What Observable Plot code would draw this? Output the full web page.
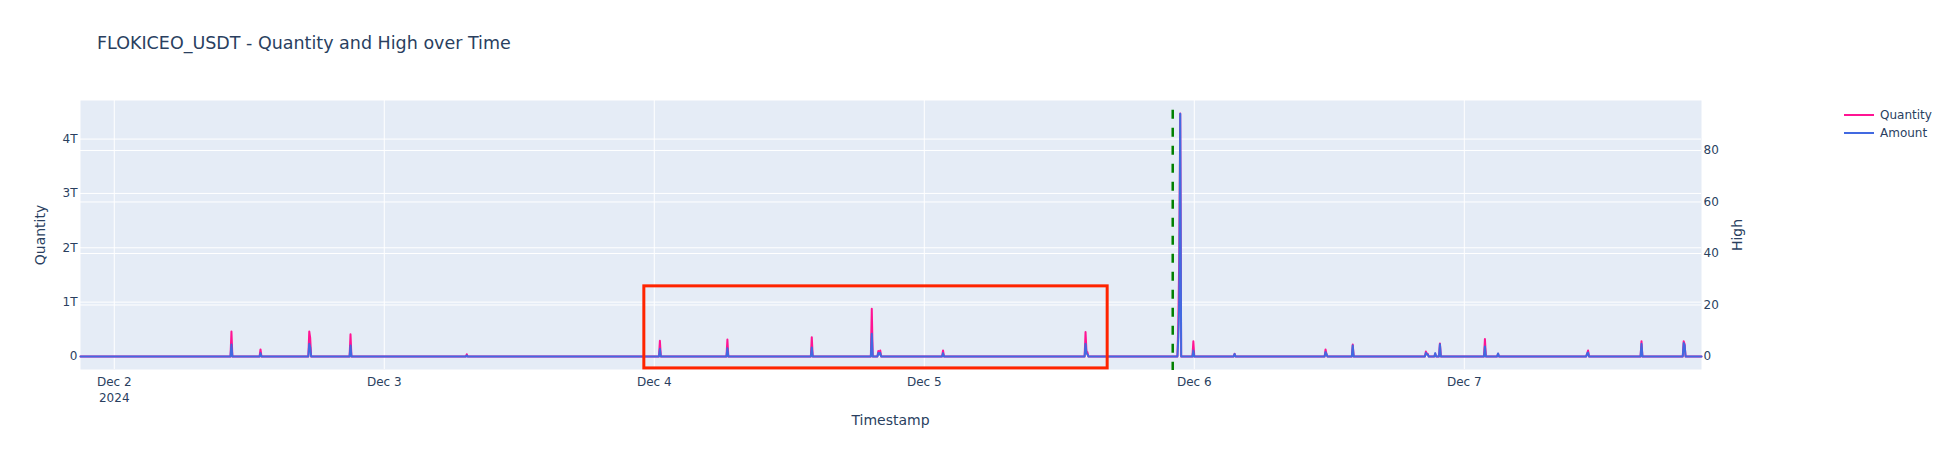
<!DOCTYPE html>
<html>
<head>
<meta charset="utf-8">
<script src="https://cdn.jsdelivr.net/npm/d3@7"></script>
<script src="https://cdn.jsdelivr.net/npm/@observablehq/plot@0.6"></script>
<style>
  html, body { margin: 0; padding: 0; background: #fff; }
  #wrap { position: relative; width: 1948px; height: 450px; font-family: "DejaVu Sans", Verdana, sans-serif; color: #2a3f5f; }
  #wrap svg { position: absolute; left: 0; top: 0; }
  .lbl { position: absolute; white-space: nowrap; }
</style>
</head>
<body>
<div id="wrap"></div>
<script>
// ---- data (UTC timestamps, 5-minute samples around activity) ----
const times = [
  "2024-12-01T21:00",
  "2024-12-02T10:20","2024-12-02T10:25","2024-12-02T10:30",
  "2024-12-02T12:55","2024-12-02T13:00","2024-12-02T13:05",
  "2024-12-02T17:15","2024-12-02T17:20","2024-12-02T17:25","2024-12-02T17:30",
  "2024-12-02T20:55","2024-12-02T21:00","2024-12-02T21:05",
  "2024-12-03T07:15","2024-12-03T07:20","2024-12-03T07:25",
  "2024-12-04T00:25","2024-12-04T00:30","2024-12-04T00:35",
  "2024-12-04T06:25","2024-12-04T06:30","2024-12-04T06:35",
  "2024-12-04T13:55","2024-12-04T14:00","2024-12-04T14:05",
  "2024-12-04T19:15","2024-12-04T19:20","2024-12-04T19:25",
  "2024-12-04T19:50","2024-12-04T19:55","2024-12-04T20:00","2024-12-04T20:05","2024-12-04T20:10",
  "2024-12-05T01:35","2024-12-05T01:40","2024-12-05T01:45",
  "2024-12-05T14:15","2024-12-05T14:20","2024-12-05T14:25","2024-12-05T14:30","2024-12-05T14:35",
  "2024-12-05T22:30","2024-12-05T22:35","2024-12-05T22:40","2024-12-05T22:45","2024-12-05T22:50",
  "2024-12-05T23:50","2024-12-05T23:55","2024-12-06T00:00",
  "2024-12-06T03:30","2024-12-06T03:35","2024-12-06T03:40",
  "2024-12-06T11:35","2024-12-06T11:40","2024-12-06T11:45","2024-12-06T11:50",
  "2024-12-06T14:00","2024-12-06T14:05","2024-12-06T14:10",
  "2024-12-06T20:30","2024-12-06T20:35","2024-12-06T20:40","2024-12-06T20:45","2024-12-06T20:50",
  "2024-12-06T21:20","2024-12-06T21:25","2024-12-06T21:30",
  "2024-12-06T21:45","2024-12-06T21:50","2024-12-06T21:55",
  "2024-12-07T01:45","2024-12-07T01:50","2024-12-07T01:55",
  "2024-12-07T02:55","2024-12-07T03:00","2024-12-07T03:05",
  "2024-12-07T10:50","2024-12-07T10:55","2024-12-07T11:00","2024-12-07T11:05",
  "2024-12-07T15:40","2024-12-07T15:45","2024-12-07T15:50",
  "2024-12-07T19:25","2024-12-07T19:30","2024-12-07T19:35","2024-12-07T19:40",
  "2024-12-07T21:05"
];
// Quantity in trillions
const quantityT = [
  0,
  0,0.46,0,
  0,0.13,0,
  0,0.46,0.34,0,
  0,0.41,0,
  0,0.04,0,
  0,0.29,0,
  0,0.31,0,
  0,0.355,0,
  0,0.876,0,
  0,0.10,0.06,0.11,0,
  0,0.11,0,
  0,0.45,0.09,0.08,0,
  0,0.65,1.9,4.47,0,
  0,0.28,0,
  0,0.05,0,
  0,0.13,0.04,0,
  0,0.22,0,
  0,0.09,0.05,0.05,0,
  0,0.05,0,
  0,0.24,0,
  0,0.32,0,
  0,0.05,0,
  0,0.05,0.11,0,
  0,0.28,0,
  0,0.28,0.23,0,
  0
];
// "Amount" series, plotted on the right-hand "High" axis
const high = [
  0,
  0,4.7,0,
  0,1.3,0,
  0,4.9,3.6,0,
  0,4.3,0,
  0,0.4,0,
  0,3.0,0,
  0,3.2,0,
  0,3.5,0,
  0,8.8,0,
  0,1.4,0.8,1.4,0,
  0,1.3,0,
  0,4.9,1.2,0.9,0,
  0,7.5,22.8,94.3,0,
  0,2.3,0,
  0,1.0,0,
  0,1.7,1.0,0,
  0,4.3,0,
  0,1.4,0.8,0.8,0,
  0,1.3,0,
  0,4.8,0,
  0,3.9,0,
  0,1.2,0,
  0,1.2,1.55,0,
  0,4.9,0,
  0,5.2,4.3,0,
  0
];
const dayTicks = ["2024-12-02","2024-12-03","2024-12-04","2024-12-05","2024-12-06","2024-12-07"];
const qtyTicksT = [0, 1, 2, 3, 4];
const highTicks = [0, 20, 40, 60, 80];
const qtyDomainT = [-0.24, 4.71];
const highDomain = [-5.05, 99.4];
// annotations
const boxX = ["2024-12-03T23:07", "2024-12-05T16:18"];
const boxQtyT = [-0.22, 1.29];
const markerTime = "2024-12-05T22:05";
const markerQtyT = [4.53, -0.26];

// ---- build ----
const T = 1e12;
const parse = s => new Date(s + "Z");
const rows = times.map((t, i) => ({t: parse(t), q: quantityT[i] * T, h: high[i]}));
const toQ = d3.scaleLinear().domain(highDomain).range(qtyDomainT.map(v => v * T));
const days = dayTicks.map(d => new Date(d + "T00:00Z"));
const fmtDay = d3.utcFormat("%b %-d");

const chart = Plot.plot({
  width: 1948,
  height: 450,
  marginTop: 100,
  marginBottom: 81,
  marginLeft: 80,
  marginRight: 247,
  style: {background: "transparent", fontFamily: "DejaVu Sans, Verdana, sans-serif", fontSize: "12px", color: "#2a3f5f", overflow: "visible"},
  x: {type: "utc", domain: [rows[0].t, rows[rows.length - 1].t]},
  y: {domain: qtyDomainT.map(v => v * T)},
  marks: [
    Plot.frame({fill: "#E5ECF6", stroke: null}),
    Plot.gridX(days, {stroke: "#fff", strokeOpacity: 1, strokeWidth: 1}),
    Plot.gridY(qtyTicksT.map(v => v * T), {stroke: "#fff", strokeOpacity: 1, strokeWidth: 1}),
    Plot.gridY(highTicks.map(toQ), {stroke: "#fff", strokeOpacity: 1, strokeWidth: 1}),
    Plot.axisX(days, {tickSize: 0, tickPadding: 5, label: null, lineHeight: 1.33, fontSize: 12,
      tickFormat: (d, i) => i === 0 ? fmtDay(d) + "\n" + d.getUTCFullYear() : fmtDay(d)}),
    Plot.axisY(qtyTicksT.map(v => v * T), {anchor: "left", tickSize: 0, tickPadding: 3, label: null, fontSize: 12,
      tickFormat: d => d === 0 ? "0" : Math.round(d / T) + "T"}),
    Plot.axisY(highTicks.map(toQ), {anchor: "right", tickSize: 0, tickPadding: 2, label: null, fontSize: 12,
      tickFormat: d => String(Math.round(toQ.invert(d)))}),
    Plot.line(rows, {x: "t", y: "q", stroke: "#FF1493", strokeWidth: 2, curve: "linear"}),
    Plot.line(rows, {x: "t", y: d => toQ(d.h), stroke: "#4169E1", strokeWidth: 2, curve: "linear"}),
    Plot.rect([{x1: parse(boxX[0]), x2: parse(boxX[1]), y1: boxQtyT[0] * T, y2: boxQtyT[1] * T}],
      {x1: "x1", x2: "x2", y1: "y1", y2: "y2", fill: "none", stroke: "#ff2400", strokeWidth: 3}),
    Plot.ruleX([{t: parse(markerTime), y1: markerQtyT[0] * T, y2: markerQtyT[1] * T}],
      {x: "t", y1: "y1", y2: "y2", stroke: "green", strokeWidth: 2.5, strokeDasharray: "9,9"})
  ]
});

const wrap = document.getElementById("wrap");
wrap.appendChild(chart);

function label(text, css) {
  const d = document.createElement("div");
  d.className = "lbl";
  d.textContent = text;
  Object.assign(d.style, css);
  wrap.appendChild(d);
  return d;
}
// title
label("FLOKICEO_USDT - Quantity and High over Time", {left: "97px", top: "33px", fontSize: "17.5px", lineHeight: "20px"});
// axis titles
label("Timestamp", {left: "890.5px", top: "410px", fontSize: "14px", lineHeight: "20px", transform: "translateX(-50%)"});
label("Quantity", {left: "40px", top: "235px", fontSize: "14px", lineHeight: "20px", transform: "translate(-50%,-50%) rotate(-90deg)"});
label("High", {left: "1737px", top: "235px", fontSize: "14px", lineHeight: "20px", transform: "translate(-50%,-50%) rotate(-90deg)"});
// legend
const legendItems = [["Quantity", "#FF1493", 115], ["Amount", "#4169E1", 133.3]];
for (const [name, color, cy] of legendItems) {
  const sw = document.createElement("div");
  Object.assign(sw.style, {position: "absolute", left: "1844px", top: (cy - 1) + "px", width: "30px", height: "2px", background: color});
  wrap.appendChild(sw);
  label(name, {left: "1880px", top: (cy - 8) + "px", fontSize: "12px", lineHeight: "16px"});
}
</script>
</body>
</html>
